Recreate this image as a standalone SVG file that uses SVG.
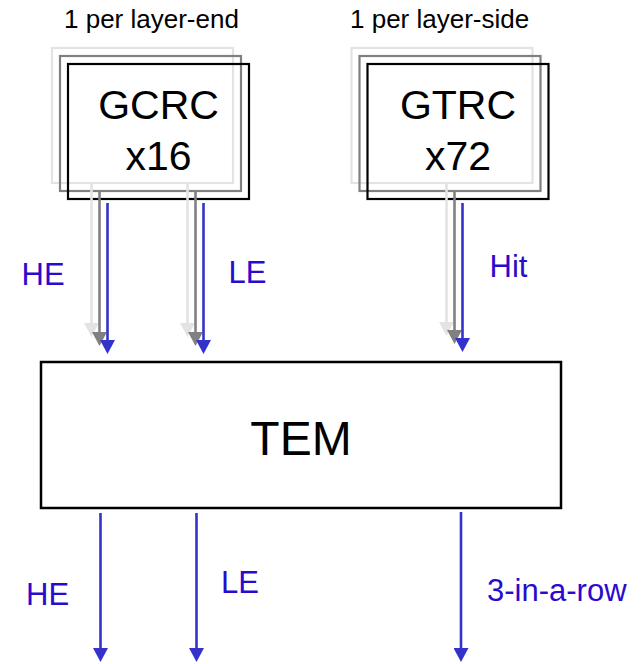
<svg xmlns="http://www.w3.org/2000/svg" width="643" height="664" viewBox="0 0 643 664">
  <style>
    .lbl { font-family: "Liberation Sans", Arial, sans-serif; }
    .note { font-size: 26px; fill: #000; }
    .name { font-size: 41px; fill: #000; text-anchor: middle; }
    .sig { font-size: 31px; fill: #2a0acc; }
    .box { fill: none; stroke-width: 2.2; }
    .b1 { stroke: #e3e3e3; }
    .b2 { stroke: #808080; }
    .b3 { stroke: #000; }
    .w1 { stroke: #e3e3e3; stroke-width: 2.6; fill: none; marker-end: url(#ahLight); }
    .w2 { stroke: #808080; stroke-width: 2.6; fill: none; marker-end: url(#ahGray); }
    .w3 { stroke: #3333cc; stroke-width: 2.6; fill: none; marker-end: url(#ahBlue); }
  </style>
  <defs>
    <marker id="ahLight" markerUnits="userSpaceOnUse" viewBox="0 0 14 15" markerWidth="14" markerHeight="15" refX="1" refY="7.5" orient="auto">
      <path d="M0,0 L14,7.5 L0,15 z" fill="#e3e3e3"/>
    </marker>
    <marker id="ahGray" markerUnits="userSpaceOnUse" viewBox="0 0 14 15" markerWidth="14" markerHeight="15" refX="1" refY="7.5" orient="auto">
      <path d="M0,0 L14,7.5 L0,15 z" fill="#808080"/>
    </marker>
    <marker id="ahBlue" markerUnits="userSpaceOnUse" viewBox="0 0 14 15" markerWidth="14" markerHeight="15" refX="1" refY="7.5" orient="auto">
      <path d="M0,0 L14,7.5 L0,15 z" fill="#3333cc"/>
    </marker>
  </defs>

  <rect width="643" height="664" fill="#fff"/>

  <!-- stacked front-end boards -->
  <g id="gcrc">
    <text class="lbl note" x="64" y="28">1 per layer-end</text>
    <rect class="box b1" x="52" y="48" width="181" height="135"/>
    <rect class="box b2" x="60" y="56" width="181" height="135"/>
    <rect class="box b3" x="68" y="64" width="181" height="135"/>
    <text class="lbl name" x="158.5" y="119">GCRC</text>
    <text class="lbl name" x="158.5" y="170">x16</text>
  </g>

  <g id="gtrc">
    <text class="lbl note" x="350" y="28">1 per layer-side</text>
    <rect class="box b1" x="351.5" y="48" width="181" height="135"/>
    <rect class="box b2" x="359.5" y="56" width="181" height="135"/>
    <rect class="box b3" x="367.5" y="64" width="181" height="135"/>
    <text class="lbl name" x="458" y="119">GTRC</text>
    <text class="lbl name" x="458" y="170">x72</text>
  </g>

  <!-- trigger electronics module -->
  <g id="tem">
    <rect x="41" y="362" width="520" height="146" fill="none" stroke="#000" stroke-width="2.5"/>
    <text class="lbl" x="301" y="455" font-size="48" text-anchor="middle" fill="#000">TEM</text>
  </g>

  <!-- signal lines -->
  <g id="connectors">
    <!-- HE from GCRC -->
    <line class="w1" x1="91.5" y1="183" x2="91.5" y2="324"/>
    <line class="w2" x1="99.5" y1="191" x2="99.5" y2="333"/>
    <line class="w3" x1="107.5" y1="203" x2="107.5" y2="341"/>
    <!-- LE from GCRC -->
    <line class="w1" x1="187.5" y1="183" x2="187.5" y2="324"/>
    <line class="w2" x1="195.5" y1="191" x2="195.5" y2="333"/>
    <line class="w3" x1="203.5" y1="203" x2="203.5" y2="341"/>
    <!-- Hit from GTRC -->
    <line class="w1" x1="446.5" y1="183" x2="446.5" y2="323"/>
    <line class="w2" x1="454.5" y1="191" x2="454.5" y2="331"/>
    <line class="w3" x1="462.5" y1="203" x2="462.5" y2="339"/>
    <!-- TEM outputs -->
    <line class="w3" x1="100.5" y1="513" x2="100.5" y2="649"/>
    <line class="w3" x1="196.5" y1="513" x2="196.5" y2="649"/>
    <line class="w3" x1="461" y1="512" x2="461" y2="649"/>
  </g>

  <g id="signal-labels">
    <text class="lbl sig" x="21.5" y="285">HE</text>
    <text class="lbl sig" x="228.5" y="283">LE</text>
    <text class="lbl sig" x="489.5" y="277">Hit</text>
    <text class="lbl sig" x="26" y="605">HE</text>
    <text class="lbl sig" x="221" y="593">LE</text>
    <text class="lbl sig" x="487" y="600.5">3-in-a-row</text>
  </g>
</svg>
